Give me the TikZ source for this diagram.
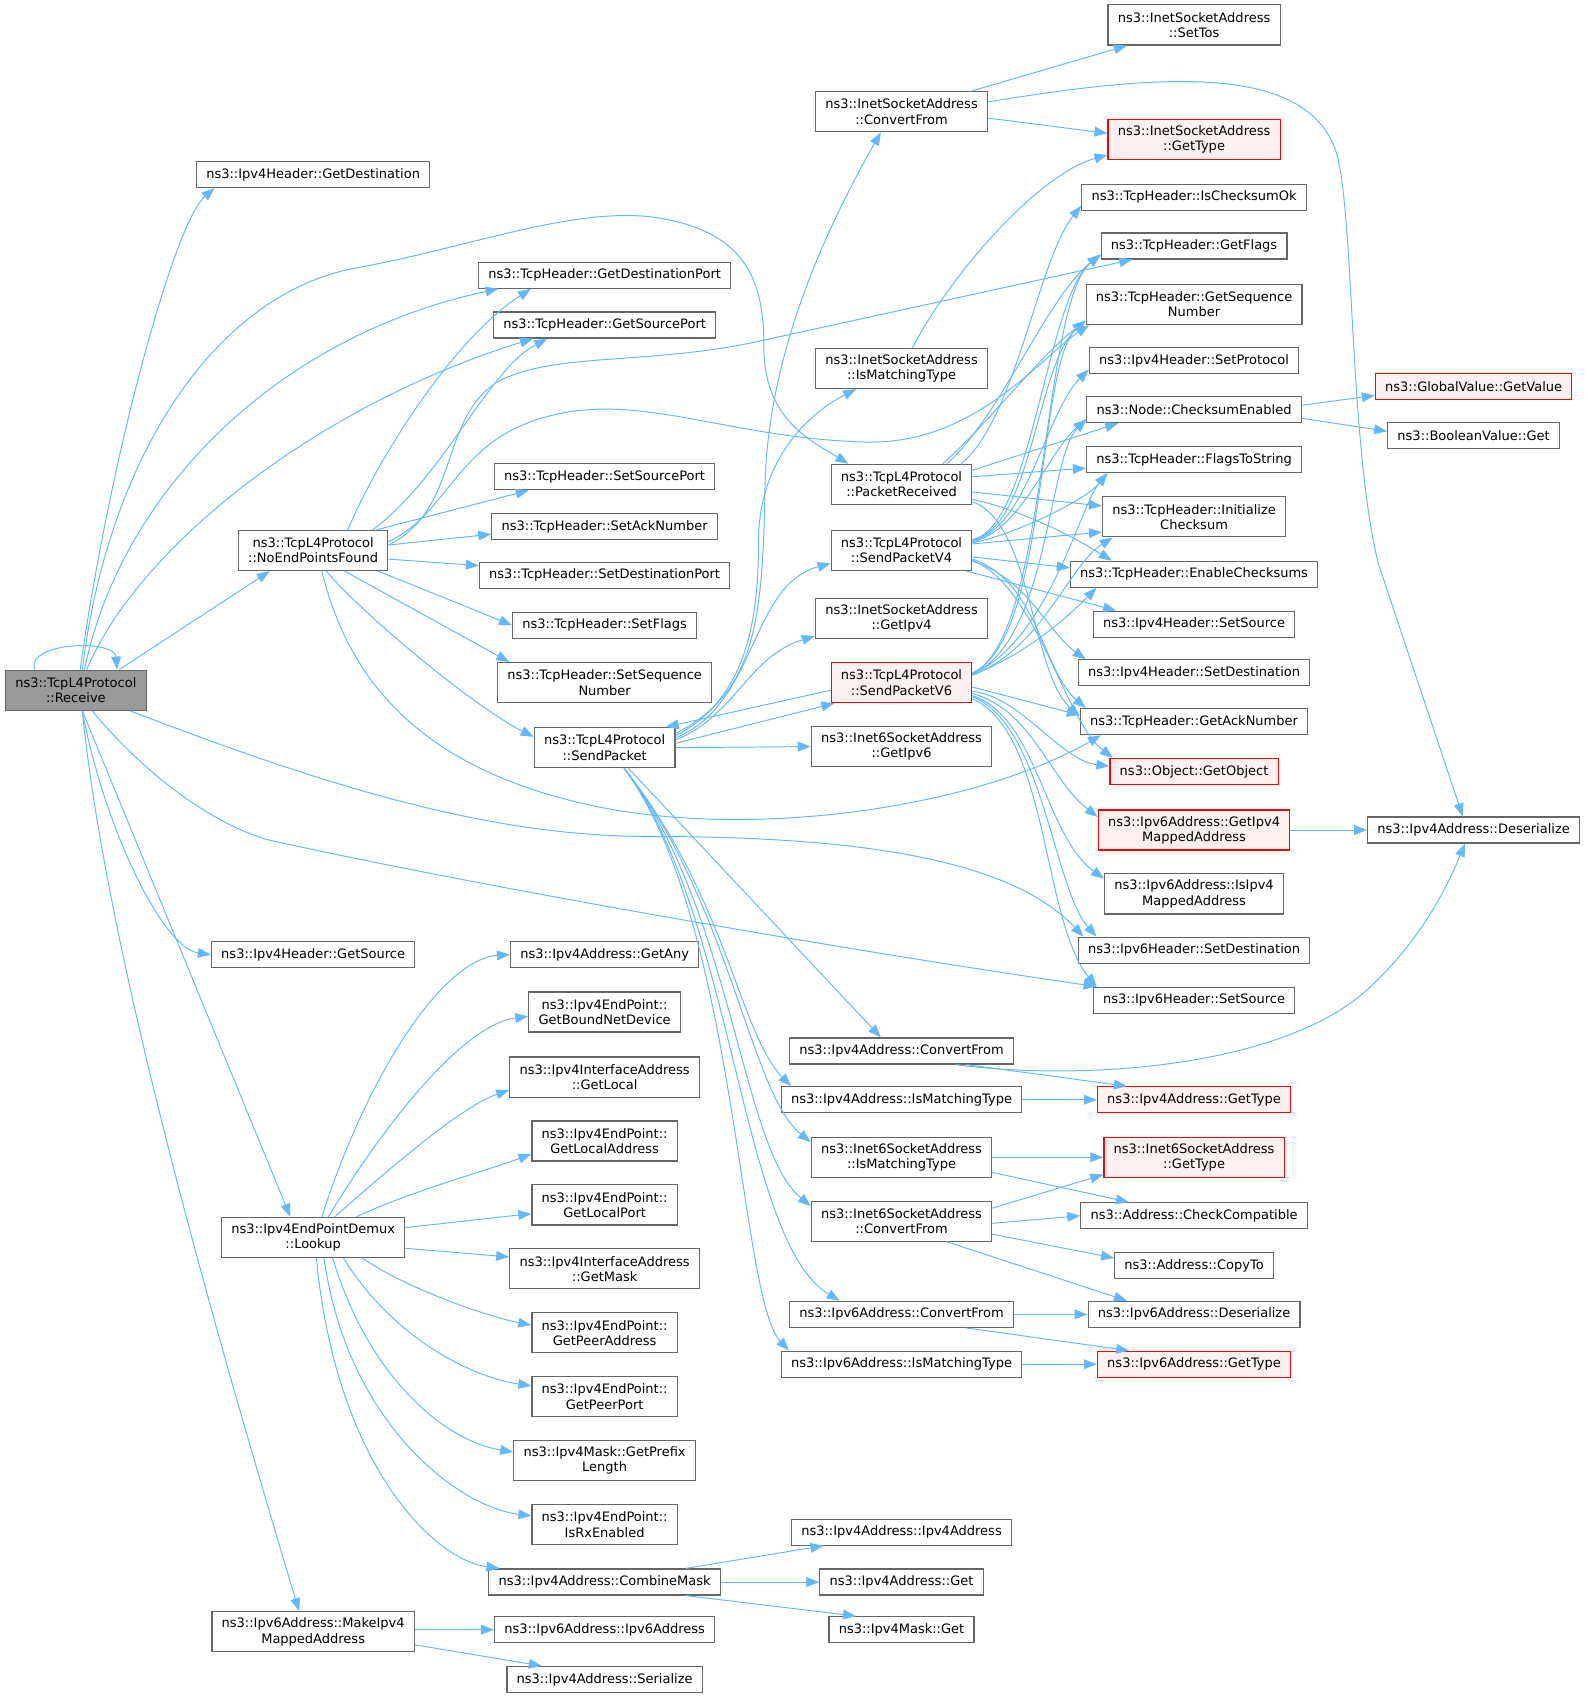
\documentclass[tikz,border=0pt]{standalone}
\usepackage{fontspec}
\setmainfont{DejaVu Sans}
\usetikzlibrary{arrows.meta}
\definecolor{edgeblue}{HTML}{63B8FF}
\definecolor{nodegray}{HTML}{666666}
\definecolor{rootgray}{HTML}{999999}
\definecolor{nodered}{HTML}{FF0000}
\definecolor{redfill}{HTML}{FFF0F0}
\newcommand{\fnfont}{\fontsize{12}{14}\selectfont}
\tikzset{
  fn/.style={draw=nodegray, fill=white, line width=1.1pt, inner xsep=9pt, inner ysep=0pt,
    minimum height=24pt, align=center, font=\fnfont},
  fntwo/.style={fn, minimum height=37pt},
  hot/.style={draw=nodered, fill=redfill},
  call/.style={draw=edgeblue, line width=0.9pt, ->},
}

\begin{document}
\begin{tikzpicture}[x=1pt, y=1pt, >={Triangle[length=12pt,width=9pt]}]
    \useasboundingbox (0,0) rectangle (1465,-1568);

    % Caller
    \node[fntwo, fill=rootgray] (root) at (70,-637) {ns3::TcpL4Protocol\\::Receive};

    % First column
    \node[fn] (ipv4dst) at (289,-161) {ns3::Ipv4Header::GetDestination};
    \node[fntwo] (noend) at (289,-508) {ns3::TcpL4Protocol\\::NoEndPointsFound};
    \node[fn] (ipv4src) at (289,-881) {ns3::Ipv4Header::GetSource};
    \node[fntwo] (lookup) at (289,-1142) {ns3::Ipv4EndPointDemux\\::Lookup};
    \node[fntwo] (mkmapped) at (289,-1506) {ns3::Ipv6Address::MakeIpv4\\MappedAddress};

    % Second column
    \node[fn] (dstport) at (558,-254) {ns3::TcpHeader::GetDestinationPort};
    \node[fn] (srcport) at (558,-300) {ns3::TcpHeader::GetSourcePort};
    \node[fn] (setsrcport) at (558,-440) {ns3::TcpHeader::SetSourcePort};
    \node[fn] (setack) at (558,-486) {ns3::TcpHeader::SetAckNumber};
    \node[fn] (setdstport) at (558,-531) {ns3::TcpHeader::SetDestinationPort};
    \node[fn] (setflags) at (558,-577) {ns3::TcpHeader::SetFlags};
    \node[fntwo] (setseq) at (558,-630) {ns3::TcpHeader::SetSequence\\Number};
    \node[fntwo] (sendpkt) at (558,-690) {ns3::TcpL4Protocol\\::SendPacket};
    \node[fn] (getany) at (558,-881) {ns3::Ipv4Address::GetAny};
    \node[fntwo] (bounddev) at (558,-934) {ns3::Ipv4EndPoint::\\GetBoundNetDevice};
    \node[fntwo] (getlocal) at (558,-994) {ns3::Ipv4InterfaceAddress\\::GetLocal};
    \node[fntwo] (localaddr) at (558,-1053) {ns3::Ipv4EndPoint::\\GetLocalAddress};
    \node[fntwo] (localport) at (558,-1112) {ns3::Ipv4EndPoint::\\GetLocalPort};
    \node[fntwo] (getmask) at (558,-1171) {ns3::Ipv4InterfaceAddress\\::GetMask};
    \node[fntwo] (peeraddr) at (558,-1230) {ns3::Ipv4EndPoint::\\GetPeerAddress};
    \node[fntwo] (peerport) at (558,-1289) {ns3::Ipv4EndPoint::\\GetPeerPort};
    \node[fntwo] (prefixlen) at (558,-1348) {ns3::Ipv4Mask::GetPrefix\\Length};
    \node[fntwo] (rxenabled) at (558,-1407) {ns3::Ipv4EndPoint::\\IsRxEnabled};
    \node[fn] (combine) at (558,-1460) {ns3::Ipv4Address::CombineMask};
    \node[fn] (ipv6ctor) at (558,-1504) {ns3::Ipv6Address::Ipv6Address};
    \node[fn] (v4serial) at (558,-1550) {ns3::Ipv4Address::Serialize};

    % Third column
    \node[fntwo] (inetconv) at (832,-103) {ns3::InetSocketAddress\\::ConvertFrom};
    \node[fntwo] (inetmatch) at (832,-340) {ns3::InetSocketAddress\\::IsMatchingType};
    \node[fntwo] (pktrecv) at (832,-447) {ns3::TcpL4Protocol\\::PacketReceived};
    \node[fntwo] (sendv4) at (832,-508) {ns3::TcpL4Protocol\\::SendPacketV4};
    \node[fntwo] (getipv4) at (832,-571) {ns3::InetSocketAddress\\::GetIpv4};
    \node[fntwo, hot] (sendv6) at (832,-630) {ns3::TcpL4Protocol\\::SendPacketV6};
    \node[fntwo] (getipv6) at (832,-689) {ns3::Inet6SocketAddress\\::GetIpv6};
    \node[fn] (v4conv) at (832,-970) {ns3::Ipv4Address::ConvertFrom};
    \node[fn] (v4match) at (832,-1015) {ns3::Ipv4Address::IsMatchingType};
    \node[fntwo] (i6match) at (832,-1068) {ns3::Inet6SocketAddress\\::IsMatchingType};
    \node[fntwo] (i6conv) at (832,-1127) {ns3::Inet6SocketAddress\\::ConvertFrom};
    \node[fn] (v6conv) at (832,-1213) {ns3::Ipv6Address::ConvertFrom};
    \node[fn] (v6match) at (832,-1259) {ns3::Ipv6Address::IsMatchingType};
    \node[fn] (v4ctor) at (832,-1414) {ns3::Ipv4Address::Ipv4Address};
    \node[fn] (v4get) at (832,-1460) {ns3::Ipv4Address::Get};
    \node[fn] (maskget) at (832,-1504) {ns3::Ipv4Mask::Get};

    % Fourth column
    \node[fntwo] (settos) at (1102,-23) {ns3::InetSocketAddress\\::SetTos};
    \node[fntwo, hot] (inettype) at (1102,-129) {ns3::InetSocketAddress\\::GetType};
    \node[fn] (csumok) at (1102,-182) {ns3::TcpHeader::IsChecksumOk};
    \node[fn] (getflags) at (1102,-227) {ns3::TcpHeader::GetFlags};
    \node[fntwo] (getseq) at (1102,-281) {ns3::TcpHeader::GetSequence\\Number};
    \node[fn] (setproto) at (1102,-333) {ns3::Ipv4Header::SetProtocol};
    \node[fn] (csumen) at (1102,-378) {ns3::Node::ChecksumEnabled};
    \node[fn] (flagsstr) at (1102,-424) {ns3::TcpHeader::FlagsToString};
    \node[fntwo] (initcsum) at (1102,-477) {ns3::TcpHeader::Initialize\\Checksum};
    \node[fn] (enablecs) at (1102,-530) {ns3::TcpHeader::EnableChecksums};
    \node[fn] (v4hsrc) at (1102,-576) {ns3::Ipv4Header::SetSource};
    \node[fn] (v4hdst) at (1102,-621) {ns3::Ipv4Header::SetDestination};
    \node[fn] (getack) at (1102,-666) {ns3::TcpHeader::GetAckNumber};
    \node[fn, hot] (getobj) at (1102,-712) {ns3::Object::GetObject};
    \node[fntwo, hot] (getmapped) at (1102,-766) {ns3::Ipv6Address::GetIpv4\\MappedAddress};
    \node[fntwo] (ismapped) at (1102,-825) {ns3::Ipv6Address::IsIpv4\\MappedAddress};
    \node[fn] (v6hdst) at (1102,-877) {ns3::Ipv6Header::SetDestination};
    \node[fn] (v6hsrc) at (1102,-923) {ns3::Ipv6Header::SetSource};
    \node[fn, hot] (v4type) at (1102,-1015) {ns3::Ipv4Address::GetType};
    \node[fntwo, hot] (i6type) at (1102,-1068) {ns3::Inet6SocketAddress\\::GetType};
    \node[fn] (checkcomp) at (1102,-1122) {ns3::Address::CheckCompatible};
    \node[fn] (copyto) at (1102,-1168) {ns3::Address::CopyTo};
    \node[fn] (v6deser) at (1102,-1213) {ns3::Ipv6Address::Deserialize};
    \node[fn, hot] (v6type) at (1102,-1259) {ns3::Ipv6Address::GetType};

    % Fifth column
    \node[fn, hot] (getvalue) at (1360,-357) {ns3::GlobalValue::GetValue};
    \node[fn] (boolget) at (1360,-402) {ns3::BooleanValue::Get};
    \node[fn] (v4deser) at (1360,-766) {ns3::Ipv4Address::Deserialize};

    % Calls of Receive
    \draw[call] ([xshift=-38]root.north) .. controls +(-8,26) and +(-2,28) .. ([xshift=38]root.north);
    \draw[call] ([xshift=4]root.north) .. controls +(26,188) and +(-38,-33) .. ([xshift=-91]ipv4dst.south);
    \draw[call] ([xshift=6]root.north) .. controls (100,-420) and (200,-270) .. (330,-247)
        .. controls (430,-229) and (525,-192) .. (600,-200) .. controls (690,-212) and (705,-260) .. (705,-320)
        .. controls (705,-385) and (745,-405) .. ([xshift=-49]pktrecv.north);
    \draw[call] ([xshift=8]root.north) .. controls +(32,158) and +(-210,-45) .. ([xshift=-98]dstport.south);
    \draw[call] ([xshift=10]root.north) .. controls +(50,118) and +(-192,-59) .. ([xshift=-66]srcport.south);
    \draw[call] ([xshift=40]root.north) -- ([xshift=-40]noend.south);
    \draw[call] ([xshift=6]root.south) .. controls +(19,-104) and +(-45,6) .. (ipv4src.west);
    \draw[call] ([xshift=6]root.south) -- ([xshift=-21]lookup.north);
    \draw[call] ([xshift=6]root.south) .. controls +(24,-244) and +(-56,188) .. ([xshift=-13]mkmapped.north);
    \draw[call] ([xshift=50]root.south) .. controls (300,-725) and (450,-772) .. (600,-772)
        .. controls (780,-772) and (930,-790) .. ([xshift=-102]v6hdst.north);
    \draw[call] ([xshift=15]root.south) .. controls (130,-710) and (190,-758) .. (247,-775)
        .. controls (450,-820) and (800,-880) .. ([xshift=-90]v6hsrc.north);

    % Calls of NoEndPointsFound
    \draw[call] ([xshift=32]noend.north) .. controls +(29,69) and +(-70,-45) .. ([xshift=-68]dstport.south);
    \draw[call] ([xshift=55]noend.north) .. controls +(66,49) and +(-55,-29) .. ([xshift=-53]srcport.south);
    \draw[call] ([yshift=5]noend.east) .. controls (425,-470) and (405,-385) .. (460,-352)
        .. controls (510,-325) and (600,-337) .. (700,-315) -- ([xshift=-57]getflags.south);
    \draw[call] ([yshift=8]noend.east) .. controls (420,-470) and (420,-400) .. (520,-381)
        .. controls (600,-366) and (680,-405) .. (800,-408) .. controls (900,-410) and (960,-330) .. ([xshift=-97]getseq.south);
    \draw[call] ([xshift=-11]noend.north east) -- ([xshift=-70]setsrcport.south);
    \draw[call] ([yshift=5]noend.east) -- ([yshift=-7]setack.west);
    \draw[call] ([yshift=-8]noend.east) -- ([yshift=9]setdstport.west);
    \draw[call] ([xshift=60]noend.south) -- (setflags.west);
    \draw[call] ([xshift=29]noend.south) -- ([xshift=-88]setseq.north);
    \draw[call] ([xshift=12]noend.south) .. controls +(39,-45) and +(-52,26) .. ([yshift=10]sendpkt.west);
    \draw[call] ([xshift=8]noend.south) .. controls (320,-620) and (380,-710) .. (554,-745)
        .. controls (700,-774) and (900,-745) .. ([xshift=-86]getack.south);

    % Calls of SendPacket
    \draw[call] ([yshift=-6]sendpkt.north east) .. controls (695,-640) and (704,-580) .. (706,-450)
        .. controls (708,-330) and (760,-215) .. ([xshift=-19]inetconv.south);
    \draw[call] ([yshift=-8]sendpkt.north east) .. controls (690,-645) and (700,-570) .. (700,-500)
        .. controls (700,-430) and (740,-385) .. ([xshift=-42]inetmatch.south);
    \draw[call] ([yshift=-10]sendpkt.north east) .. controls +(76,31) and +(-75,-20) .. ([yshift=-12]sendv4.west);
    \draw[call] ([yshift=-12]sendpkt.north east) .. controls +(56,23) and +(-62,-19) .. ([yshift=-16]getipv4.west);
    \draw[call] ([yshift=4]sendpkt.east) -- ([xshift=-62]sendv6.south);
    \draw[call] ([yshift=-7]sendv6.west) -- ([xshift=-9]sendpkt.north east);
    \draw[call] (sendpkt.east) -- (getipv6.west);
    \draw[call] ([xshift=22]sendpkt.south) -- ([xshift=-19]v4conv.north);
    \draw[call] ([xshift=18]sendpkt.south) .. controls +(95,-120) and +(-48,50) .. ([xshift=-102]v4match.north);
    \draw[call] ([xshift=18]sendpkt.south) .. controls +(98,-125) and +(-56,45) .. ([yshift=14]i6match.west);
    \draw[call] ([xshift=18]sendpkt.south) .. controls +(100,-130) and +(-64,52) .. ([yshift=14]i6conv.west);
    \draw[call] ([xshift=18]sendpkt.south) .. controls +(102,-135) and +(-92,55) .. ([xshift=-57]v6conv.north);
    \draw[call] ([xshift=18]sendpkt.south) .. controls +(104,-140) and +(-46,50) .. ([xshift=-104]v6match.north);

    % Calls of Lookup
    \draw[call] ([xshift=8]lookup.north) .. controls +(43,134) and +(-61,-4) .. (getany.west);
    \draw[call] ([xshift=14]lookup.north) .. controls +(57,94) and +(-57,-7) .. ([yshift=-4]bounddev.west);
    \draw[call] ([xshift=20]lookup.north) .. controls +(61,54) and +(-41,-14) .. ([yshift=-12]getlocal.west);
    \draw[call] ([xshift=40]lookup.north) .. controls +(51,24) and +(-40,-15) .. ([yshift=-12]localaddr.west);
    \draw[call] ([yshift=9]lookup.east) -- ([yshift=-8]localport.west);
    \draw[call] ([yshift=-10]lookup.east) -- ([yshift=11]getmask.west);
    \draw[call] ([xshift=45]lookup.south) .. controls +(45,-30) and +(-40,8) .. ([yshift=7]peeraddr.west);
    \draw[call] ([xshift=28]lookup.south) .. controls +(43,-70) and +(-60,9) .. ([yshift=10]peerport.west);
    \draw[call] ([xshift=18]lookup.south) .. controls +(33,-110) and +(-63,10) .. ([yshift=8]prefixlen.west);
    \draw[call] ([xshift=10]lookup.south) .. controls +(21,-150) and +(-70,9) .. ([yshift=8]rxenabled.west);
    \draw[call] ([xshift=3]lookup.south) .. controls +(18,-190) and +(-61,8) .. ([xshift=-97]combine.north);

    % Calls of CombineMask and MakeIpv4MappedAddress
    \draw[call] ([xshift=75]combine.north) -- ([xshift=-72]v4ctor.south);
    \draw[call] (combine.east) -- (v4get.west);
    \draw[call] ([xshift=75]combine.south) -- ([xshift=-42]maskget.north);
    \draw[call] ([yshift=2]mkmapped.east) -- (ipv6ctor.west);
    \draw[call] ([yshift=-12]mkmapped.east) -- ([xshift=-58]v4serial.north);

    % Calls of InetSocketAddress
    \draw[call] ([xshift=65]inetconv.north) -- ([xshift=-62]settos.south);
    \draw[call] ([yshift=-6]inetconv.east) -- ([yshift=6]inettype.west);
    \draw[call] ([yshift=9]inetconv.east) .. controls (1060,-70) and (1205,-55) .. (1233,-140)
        .. controls (1250,-195) and (1245,-410) .. (1272,-520) -- ([xshift=-10]v4deser.north);
    \draw[call] ([xshift=10]inetmatch.north) .. controls +(38,72) and +(-62,-17) .. ([yshift=-14]inettype.west);

    % Calls of PacketReceived
    \draw[call] ([xshift=55]pktrecv.north) .. controls +(50,40) and +(-40,-50) .. ([yshift=-8]csumok.west);
    \draw[call] ([xshift=42]pktrecv.north) .. controls +(50,45) and +(-50,-40) .. ([yshift=-8]getflags.west);
    \draw[call] ([xshift=38]pktrecv.north) .. controls +(45,40) and +(-45,-35) .. ([yshift=-15]getseq.west);
    \draw[call] ([yshift=13]pktrecv.east) -- ([xshift=-70]csumen.south);
    \draw[call] ([yshift=7]pktrecv.east) -- ([yshift=-8]flagsstr.west);
    \draw[call] ([yshift=-7]pktrecv.east) -- ([yshift=10]initcsum.west);
    \draw[call] ([yshift=-14]pktrecv.east) .. controls +(40,-8) and +(-40,25) .. ([xshift=-76]enablecs.north);
    \draw[call] ([yshift=-16]pktrecv.east) .. controls +(55,-20) and +(-45,40) .. ([yshift=5]getack.west);

    % Calls of SendPacketV4
    \draw[call] ([yshift=10]sendv4.east) .. controls +(55,10) and +(-50,-40) .. ([yshift=-8]getflags.west);
    \draw[call] ([yshift=10]sendv4.east) .. controls +(55,10) and +(-45,-40) .. ([yshift=-15]getseq.west);
    \draw[call] ([yshift=9]sendv4.east) .. controls +(50,10) and +(-40,-40) .. ([yshift=-8]setproto.west);
    \draw[call] ([yshift=8]sendv4.east) .. controls +(45,10) and +(-35,-30) .. ([yshift=-9]csumen.west);
    \draw[call] ([yshift=7]sendv4.east) .. controls +(40,8) and +(-20,-25) .. ([xshift=-80]flagsstr.south);
    \draw[call] ([yshift=6]sendv4.east) -- ([yshift=-14]initcsum.west);
    \draw[call] ([yshift=-6]sendv4.east) -- ([yshift=6]enablecs.west);
    \draw[call] ([xshift=60]sendv4.south) -- ([xshift=-72]v4hsrc.north);
    \draw[call] ([yshift=-10]sendv4.east) .. controls +(50,-15) and +(-35,25) .. ([xshift=-100]v4hdst.north);
    \draw[call] ([yshift=-8]sendv4.east) .. controls +(60,-20) and +(-40,35) .. ([xshift=-100]getack.north);
    \draw[call] ([yshift=-9]sendv4.east) .. controls +(60,-25) and +(-45,35) .. ([xshift=-75]getobj.north);

    % Calls of SendPacketV6
    \draw[call] ([yshift=9]sendv6.east) .. controls +(70,30) and +(-55,-45) .. ([yshift=-8]getflags.west);
    \draw[call] ([yshift=9]sendv6.east) .. controls +(70,30) and +(-45,-40) .. ([yshift=-15]getseq.west);
    \draw[call] ([yshift=8]sendv6.east) .. controls +(70,30) and +(-35,-35) .. ([yshift=-9]csumen.west);
    \draw[call] ([yshift=8]sendv6.east) .. controls +(70,30) and +(-25,-30) .. ([xshift=-80]flagsstr.south);
    \draw[call] ([yshift=7]sendv6.east) .. controls +(65,25) and +(-40,-25) .. ([xshift=-75]initcsum.south);
    \draw[call] ([yshift=7]sendv6.east) .. controls +(50,20) and +(-30,-30) .. ([xshift=-90]enablecs.south);
    \draw[call] ([yshift=-4]sendv6.east) -- ([yshift=6]getack.west);
    \draw[call] ([yshift=-8]sendv6.east) .. controls +(45,-5) and +(-45,5) .. ([yshift=5]getobj.west);
    \draw[call] ([yshift=-10]sendv6.east) .. controls +(55,-15) and +(-45,35) .. ([yshift=12]getmapped.west);
    \draw[call] ([yshift=-12]sendv6.east) .. controls +(60,-20) and +(-55,40) .. ([yshift=14]ismapped.west);
    \draw[call] ([yshift=-13]sendv6.east) .. controls +(65,-25) and +(-40,45) .. ([xshift=-90]v6hdst.north);
    \draw[call] ([yshift=-15]sendv6.east) .. controls +(70,-30) and +(-50,60) .. ([xshift=-90]v6hsrc.north);

    % Remaining calls
    \draw[call] ([yshift=4]csumen.east) -- ([yshift=-8]getvalue.west);
    \draw[call] ([yshift=-8]csumen.east) -- ([yshift=4]boolget.west);
    \draw[call] (getmapped.east) -- (v4deser.west);
    \draw[call] ([xshift=60]v4conv.south) -- ([xshift=-62]v4type.north);
    \draw[call] ([xshift=50]v4conv.south) .. controls (1000,-998) and (1180,-985) .. (1260,-915)
        .. controls (1310,-870) and (1335,-820) .. ([xshift=-8]v4deser.south);
    \draw[call] (v4match.east) -- (v4type.west);
    \draw[call] (i6match.east) -- (i6type.west);
    \draw[call] ([yshift=-14]i6match.east) -- ([xshift=-60]checkcomp.north);
    \draw[call] ([yshift=12]i6conv.east) -- ([yshift=-16]i6type.west);
    \draw[call] ([yshift=-2]i6conv.east) -- (checkcomp.west);
    \draw[call] ([yshift=-12]i6conv.east) -- ([yshift=7]copyto.west);
    \draw[call] ([xshift=42]i6conv.south) -- ([xshift=-62]v6deser.north);
    \draw[call] (v6conv.east) -- (v6deser.west);
    \draw[call] ([xshift=60]v6conv.south) -- ([xshift=-60]v6type.north);
    \draw[call] (v6match.east) -- (v6type.west);
\end{tikzpicture}
\end{document}
